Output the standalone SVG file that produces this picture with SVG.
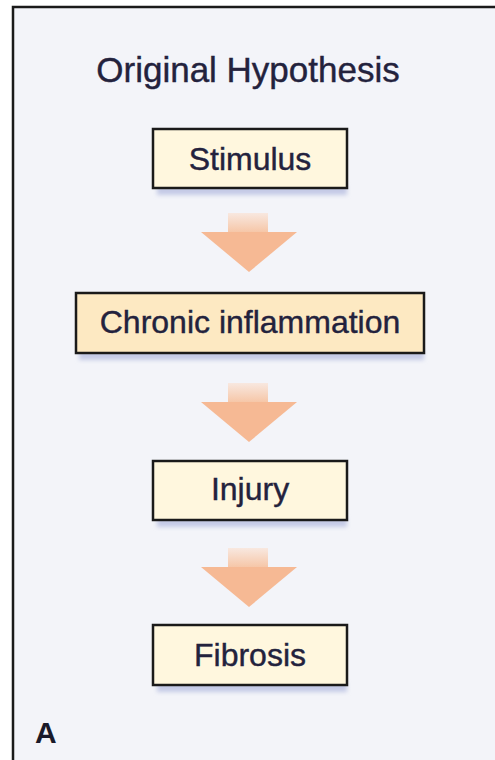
<svg xmlns="http://www.w3.org/2000/svg" width="495" height="760" viewBox="0 0 495 760">
<style>
.box{stroke:#1a1a1a;stroke-width:2.5}
.pale{fill:#fff7de}
.tan{fill:#fde9c2}
.shadow{fill:#c4cae6}
.lbl{font-family:"Liberation Sans",Arial,sans-serif;font-size:32px;fill:#23223d;stroke:#23223d;stroke-width:0.4;text-anchor:middle}
.arrow{fill:#f6b994}
</style>
<defs>
<linearGradient id="stem" x1="0" y1="0" x2="0" y2="1">
<stop offset="0" stop-color="#f8e8e0"/>
<stop offset="1" stop-color="#f6c5a5"/>
</linearGradient>
<filter id="blur" x="-10%" y="-50%" width="120%" height="200%"><feGaussianBlur stdDeviation="2"/></filter>
<g id="arrowShape">
<rect x="228" y="0" width="40" height="20" fill="url(#stem)"/>
<polygon class="arrow" points="201,19 297,19 249,59"/>
</g>
</defs>
<rect x="0" y="0" width="495" height="760" fill="#ffffff"/>
<rect id="frame" x="13" y="7" width="520" height="800" fill="#f3f4f9" stroke="#1a1a1a" stroke-width="2.5"/>
<text id="title" x="248" y="82" font-family="Liberation Sans, Arial, sans-serif" font-size="35" fill="#23223d" stroke="#23223d" stroke-width="0.4" text-anchor="middle">Original Hypothesis</text>
<g id="connectors">
<use href="#arrowShape" y="213"/>
<use href="#arrowShape" y="383"/>
<use href="#arrowShape" y="548"/>
</g>
<g id="stimulus">
<rect class="shadow" x="157" y="186" width="190" height="9" filter="url(#blur)"/>
<rect class="box pale" x="153" y="129" width="194" height="59"/>
<text class="lbl" x="250" y="170">Stimulus</text>
</g>
<g id="chronic">
<rect class="shadow" x="79" y="351" width="345" height="9" filter="url(#blur)"/>
<rect class="box tan" x="76" y="293" width="348" height="60"/>
<text class="lbl" x="250" y="333">Chronic inflammation</text>
</g>
<g id="injury">
<rect class="shadow" x="157" y="518" width="190" height="9" filter="url(#blur)"/>
<rect class="box pale" x="153" y="461" width="194" height="59"/>
<text class="lbl" x="250" y="500">Injury</text>
</g>
<g id="fibrosis">
<rect class="shadow" x="157" y="683" width="190" height="9" filter="url(#blur)"/>
<rect class="box pale" x="153" y="625" width="194" height="60"/>
<text class="lbl" x="250" y="666">Fibrosis</text>
</g>
<text id="panel" x="35" y="743" font-family="Liberation Sans, Arial, sans-serif" font-size="30" font-weight="bold" fill="#1a1a2a">A</text>
</svg>
